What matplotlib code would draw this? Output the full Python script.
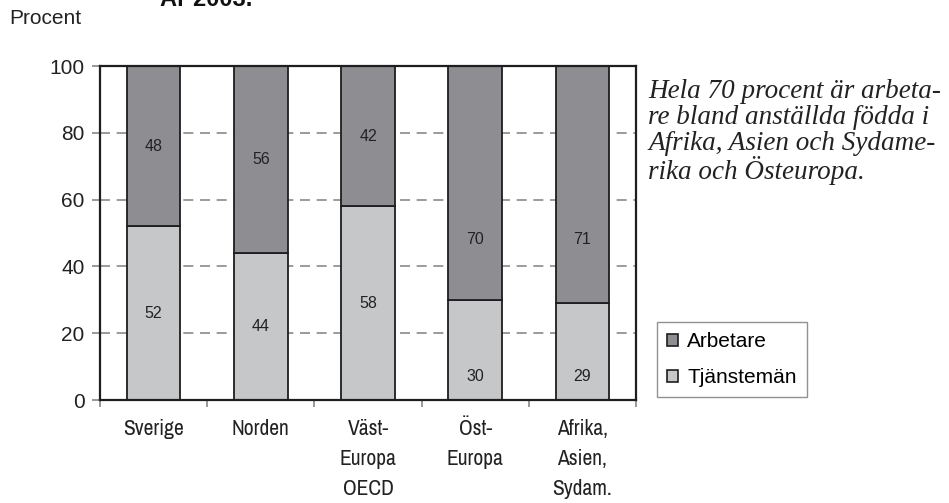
import matplotlib
matplotlib.use("Agg")
import matplotlib.pyplot as plt
from matplotlib.patches import Patch
from matplotlib import font_manager

categories = ["Sverige", "Norden", "Väst-\nEuropa\nOECD", "Öst-\nEuropa", "Afrika,\nAsien,\nSydam."]
tjanstemen = [52, 44, 58, 30, 29]
arbetare = [48, 56, 42, 70, 71]
yticks = [0, 20, 40, 60, 80, 100]

# label placement (layout): default segment centre, with overrides
tj_label_y = [None, None, None, 7, 7]
arb_label_y = [None, None, None, 48, 48]

dark = "#8e8e92"
light = "#c6c7c9"
edge = "#1e1e1e"

plt.rcParams['font.family'] = ['Liberation Sans', 'DejaVu Sans']
names = {f.name for f in font_manager.fontManager.ttflist}
narrow_font = None
for cand in ['Liberation Sans Narrow', 'Arimo Narrow', 'Archivo Narrow', 'Roboto Condensed', 'PT Sans Narrow']:
    if cand in names:
        narrow_font = cand
        break
if narrow_font:
    cat_family = [narrow_font, 'Liberation Sans', 'DejaVu Sans']
    cat_size = 15.5
    cat_ls = 1.61
else:
    cat_family = ['Liberation Sans', 'DejaVu Sans']
    cat_size = 13
    cat_ls = 1.9

fig = plt.figure(figsize=(9.49, 5.03), dpi=100)
ax = fig.add_axes([100/949, 1-400/503, 536/949, 334/503])

x = list(range(len(categories)))
ax.bar(x, tjanstemen, width=0.5, color=light, edgecolor=edge, linewidth=1.3, zorder=3, label="Tjänstemän")
ax.bar(x, arbetare, width=0.5, bottom=tjanstemen, color=dark, edgecolor=edge, linewidth=1.3, zorder=3, label="Arbetare")

for i in x:
    ty = tj_label_y[i] if tj_label_y[i] is not None else tjanstemen[i] / 2
    ay = arb_label_y[i] if arb_label_y[i] is not None else tjanstemen[i] + arbetare[i] / 2
    ax.text(i, ty, str(tjanstemen[i]), ha="center", va="center", fontsize=11.5, color="#222222", zorder=4)
    ax.text(i, ay, str(arbetare[i]), ha="center", va="center", fontsize=11.5, color="#222222", zorder=4)

ax.set_xlim(-0.5, len(categories) - 0.5)
ax.set_ylim(0, 100)
ax.set_yticks(yticks)
ax.set_yticklabels([str(v) for v in yticks], fontsize=15, color="#222222")
ax.set_xticks([i - 0.5 for i in range(len(categories) + 1)], minor=False)
ax.set_xticklabels([])
ax.set_xticks(x, minor=True)
ax.set_xticklabels(categories, minor=True, fontsize=cat_size, color="#222222", linespacing=cat_ls,
                   va="top", family=cat_family)
ax.tick_params(axis="x", which="minor", length=0, pad=14)
ax.tick_params(axis="x", which="major", length=5, color="#888888", width=1.2)
ax.tick_params(axis="y", length=6, color="#888888", width=1.2, pad=5)

ax.yaxis.grid(True, linestyle=(0, (6, 4)), color="#8a8a8a", linewidth=1.2, zorder=0)
ax.set_axisbelow(True)
for s in ax.spines.values():
    s.set_color(edge)
    s.set_linewidth(1.6)
    s.set_zorder(5)

fig.text(9/949, 1-19/503, "Procent", fontsize=15, color="#222222", va="center", ha="left")
fig.text(206/949, 1+0/503, "År 2003.", fontsize=17, fontweight="bold", color="#111111", va="center", ha="center")

note_lines = ["Hela 70 procent är arbeta-", "re bland anställda födda i",
              "Afrika, Asien och Sydame-", "rika och Östeuropa."]
for k, line in enumerate(note_lines):
    fig.text(648/949, 1-(91 + k*26.5)/503, line, fontsize=19.5, style="italic",
             family="Liberation Serif", color="#222222", va="center", ha="left")

handles = [Patch(facecolor=dark, edgecolor=edge, linewidth=1.2, label="Arbetare"),
           Patch(facecolor=light, edgecolor=edge, linewidth=1.2, label="Tjänstemän")]
leg = fig.legend(handles=handles, loc="upper left", bbox_to_anchor=(657/949, 1-322/503),
                 fontsize=15, frameon=True, fancybox=False, handlelength=0.5, handleheight=0.5,
                 handletextpad=0.45, borderpad=0.5, labelspacing=0.8, borderaxespad=0)
leg.get_frame().set_edgecolor("#777777")
leg.get_frame().set_linewidth(1.0)

fig.savefig("out.png", dpi=100)
